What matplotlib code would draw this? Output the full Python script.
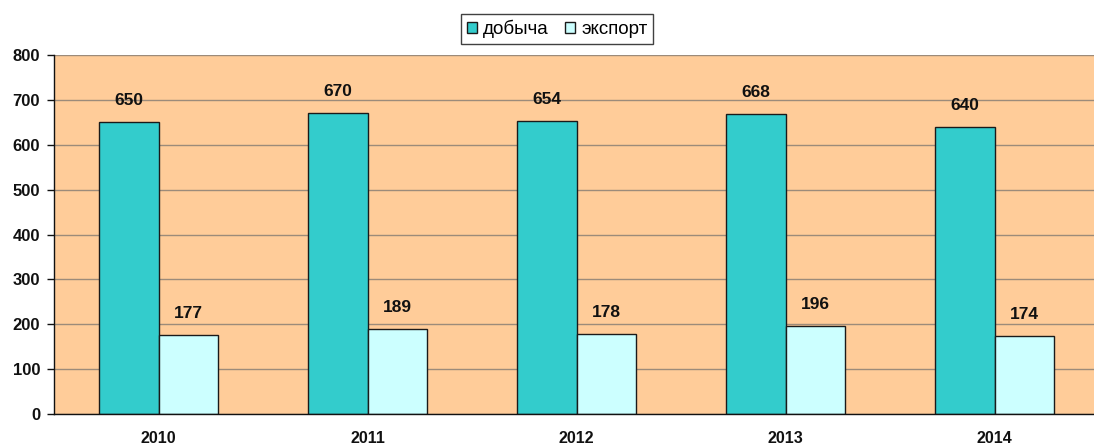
import matplotlib
matplotlib.use("Agg")
import matplotlib.pyplot as plt
import numpy as np

years = ["2010", "2011", "2012", "2013", "2014"]
mining = [650, 670, 654, 668, 640]
export = [177, 189, 178, 196, 174]
series_names = ["добыча", "экспорт"]

plt.rcParams['font.family'] = ['Liberation Sans', 'DejaVu Sans']

fig = plt.figure(figsize=(10.94, 4.48), dpi=100)
ax = fig.add_axes([54 / 1094, 1 - 414 / 448, 1 - 54 / 1094, (414 - 55) / 448])
ax.set_facecolor("#FFCC99")

x = np.arange(len(years))
w = 0.285
b1 = ax.bar(x - w / 2, mining, w, color="#33CCCC", edgecolor="#1a1a1a", linewidth=1.0,
            label=series_names[0], zorder=3)
b2 = ax.bar(x + w / 2, export, w, color="#CCFFFF", edgecolor="#1a1a1a", linewidth=1.0,
            label=series_names[1], zorder=3)

for bars, vals in ((b1, mining), (b2, export)):
    for r, v in zip(bars, vals):
        ax.annotate(str(v), (r.get_x() + r.get_width() / 2, v), xytext=(0, 10),
                    textcoords="offset points", ha="center", va="bottom",
                    fontsize=12.5, fontweight="bold", color="#111111")

ax.set_ylim(0, 800)
ax.set_yticks(range(0, 801, 100))
ax.set_xlim(-0.5, 4.476)
ax.set_xticks(x)
ax.set_xticklabels(years)
ax.yaxis.grid(True, color="#9C8B7A", linewidth=1.0, zorder=0)
ax.set_axisbelow(True)

for s in ("top", "right"):
    ax.spines[s].set_visible(False)
for s in ("left", "bottom"):
    ax.spines[s].set_color("#111111")
    ax.spines[s].set_linewidth(1.0)
    ax.spines[s].set_zorder(4)

ax.tick_params(axis="y", length=5, width=1, color="#111111", pad=5)
ax.tick_params(axis="x", length=0, pad=12)
for lab in ax.get_yticklabels():
    lab.set_fontweight("bold")
    lab.set_fontsize(12)
    lab.set_color("#111111")
for lab in ax.get_xticklabels():
    lab.set_fontweight("bold")
    lab.set_fontsize(11.5)
    lab.set_color("#111111")

leg = fig.legend(handles=[b1, b2], labels=series_names, loc="center",
                 bbox_to_anchor=(557 / 1094, 1 - 29 / 448), ncol=2, frameon=True,
                 fancybox=False, edgecolor="#111111", fontsize=13.5,
                 handlelength=0.55, handleheight=0.55, handletextpad=0.3,
                 columnspacing=0.9, borderpad=0.3)
leg.get_frame().set_linewidth(1.0)

fig.savefig("out.png", dpi=100, facecolor="white")
